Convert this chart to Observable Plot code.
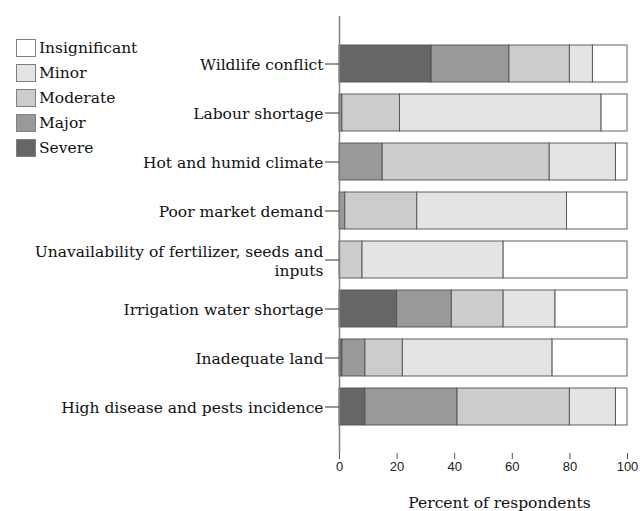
<!DOCTYPE html>
<html>
<head>
<meta charset="utf-8">
<script src="https://cdn.jsdelivr.net/npm/d3@7"></script>
<script src="https://cdn.jsdelivr.net/npm/@observablehq/plot@0.6"></script>
<style>
  html, body { margin: 0; padding: 0; background: #fff; }
  #wrap { position: relative; width: 640px; height: 511px; }
  #legend { position: absolute; left: 16px; top: 35px; font-family: "DejaVu Serif", serif; font-size: 15.5px; color: #111; }
  .li { display: flex; align-items: center; height: 25px; }
  .sw { width: 18px; height: 16px; border: 1.5px solid #808080; margin-right: 3px; box-sizing: content-box; }
</style>
</head>
<body>
<div id="wrap"><div id="legend"></div></div>
<script>
const categories = [
  "Wildlife conflict",
  "Labour shortage",
  "Hot and humid climate",
  "Poor market demand",
  "Unavailability of fertilizer, seeds and inputs",
  "Irrigation water shortage",
  "Inadequate land",
  "High disease and pests incidence"
];
const tickLabels = [
  "Wildlife conflict",
  "Labour shortage",
  "Hot and humid climate",
  "Poor market demand",
  "Unavailability of fertilizer, seeds and\ninputs",
  "Irrigation water shortage",
  "Inadequate land",
  "High disease and pests incidence"
];
const levels = ["Severe", "Major", "Moderate", "Minor", "Insignificant"];
const legendOrder = ["Insignificant", "Minor", "Moderate", "Major", "Severe"];
const levelColors = ["#666666", "#999999", "#cccccc", "#e4e4e4", "#ffffff"];

const severe        = [32, 0,  0,  0,  0, 20,  1,  9];
const major         = [27, 1, 15,  2,  0, 19,  8, 32];
const moderate      = [21, 20, 58, 25, 8, 18, 13, 39];
const minor         = [8, 70, 23, 52, 49, 18, 52, 16];
const insignificant = [12, 9,  4, 21, 43, 25, 26,  4];

const xTicks = [0, 20, 40, 60, 80, 100];
const xLabel = "Percent of respondents";

const series = [severe, major, moderate, minor, insignificant];
const rows = [];
categories.forEach((c, i) => {
  levels.forEach((lv, j) => rows.push({cat: c, level: lv, value: series[j][i]}));
});
const labelOf = new Map(categories.map((c, i) => [c, tickLabels[i]]));

const chart = Plot.plot({
  width: 640,
  height: 511,
  marginLeft: 339,
  marginRight: 13,
  marginTop: 16,
  marginBottom: 58,
  x: {domain: [0, 100]},
  y: {domain: categories, paddingInner: 0.247, paddingOuter: 0.57},
  color: {domain: levels, range: levelColors},
  style: {background: "transparent"},
  marks: [
    Plot.barX(rows, Plot.stackX({
      x: "value", y: "cat", fill: "level", order: levels,
      stroke: "#505050", strokeWidth: 1, strokeOpacity: 0.9
    })),
    Plot.ruleX([0], {stroke: "#808080", strokeWidth: 1.5}),
    Plot.axisY({
      tickSize: 14, tickPadding: 2, label: null,
      tickFormat: d => labelOf.get(d),
      fontSize: 15.5, fontFamily: "DejaVu Serif", fill: "#111",
      lineHeight: 1.23, stroke: "#333"
    }),
    Plot.axisX({
      ticks: xTicks, tickSize: 6, tickPadding: 2, label: null,
      fontSize: 13, fontFamily: "Liberation Sans", fill: "#222", stroke: "#555"
    }),
    Plot.text([xLabel], {
      text: d => d, frameAnchor: "bottom", dx: 16, dy: 54,
      fontSize: 15.5, fontFamily: "DejaVu Serif", fill: "#111"
    })
  ]
});
document.getElementById("wrap").prepend(chart);

const legend = document.getElementById("legend");
legendOrder.forEach(lv => {
  const row = document.createElement("div");
  row.className = "li";
  const sw = document.createElement("div");
  sw.className = "sw";
  sw.style.background = levelColors[levels.indexOf(lv)];
  const t = document.createElement("span");
  t.textContent = lv;
  row.appendChild(sw); row.appendChild(t);
  legend.appendChild(row);
});
</script>
</body>
</html>
